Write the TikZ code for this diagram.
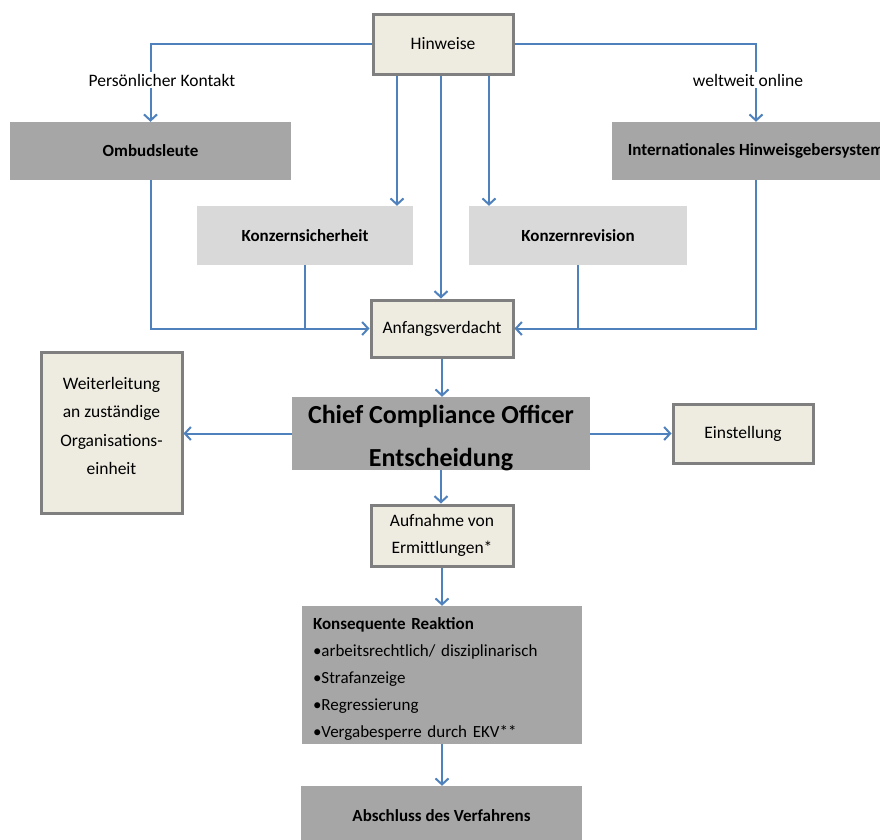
\documentclass[tikz,border=0pt]{standalone}
\usepackage{fontspec}
\setmainfont{Carlito}
\usetikzlibrary{arrows.meta}
\definecolor{beige}{HTML}{EEECE1}
\definecolor{frame}{HTML}{7F7F7F}
\definecolor{dgray}{HTML}{A6A6A6}
\definecolor{lgray}{HTML}{D9D9D9}
\definecolor{conncol}{HTML}{4F81BD}
\tikzset{
  base/.style={inner sep=0pt, align=center, font=\fontsize{17.5}{21}\selectfont},
  beigebox/.style={base, fill=beige, draw=frame, line width=3pt},
  darkbox/.style={base, fill=dgray, font=\fontsize{17}{21}\selectfont\bfseries},
  lightbox/.style={base, fill=lgray, font=\fontsize{17}{21}\selectfont\bfseries},
  txt/.style={inner sep=0pt, align=center},
  conn/.style={draw=conncol, line width=2pt, -{Straight Barb[length=6pt,width=13pt]}},
  plainline/.style={draw=conncol, line width=2pt},
  lbl/.style={base, fill=white, inner sep=2pt}
}
\begin{document}
\begin{tikzpicture}[x=1pt,y=-1pt]
\useasboundingbox (0,0) rectangle (880,839);
\fill[white] (0,0) rectangle (880,839);
% nodes
\node[beigebox, minimum width=140, minimum height=60] (hin) at (443,44) {Hinweise};
\node[darkbox, minimum width=281, minimum height=58] (omb) at (150.5,151) {Ombudsleute};
\node[darkbox, minimum width=288, minimum height=58] (int) at (756,151) {Internationales Hinweisgebersystem};
\node[lightbox, minimum width=216, minimum height=59] (ks) at (305,235.5) {Konzernsicherheit};
\node[lightbox, minimum width=218, minimum height=59] (kr) at (578,235.5) {Konzernrevision};
\node[beigebox, minimum width=142, minimum height=57] (anf) at (442,328.5) {Anfangsverdacht};
\node[beigebox, minimum width=141, minimum height=161] (wei) at (111.5,432.5) {};
\node[txt, font=\fontsize{17.5}{28.5}\selectfont] (weit) at (111.5,426)
  {Weiterleitung\\an zuständige\\Organisations-\\einheit};
\node[base, fill=dgray, minimum width=298, minimum height=73] (cco) at (441,433.5) {};
\node[txt, font=\fontsize{26}{43}\selectfont\bfseries] (ccot) at (441,438)
  {Chief Compliance Officer\\Entscheidung};
\node[beigebox, minimum width=140, minimum height=59] (ein) at (743,433.5) {Einstellung};
\node[beigebox, minimum width=142, minimum height=61, font=\fontsize{17.5}{27}\selectfont] (auf) at (442,535.5) {Aufnahme von\\Ermittlungen*};
\node[base, fill=dgray, minimum width=280, minimum height=138] (kon) at (442,675) {};
\node[txt, text width=258, align=left, font=\fontsize{17}{27.2}\selectfont] (kont) at (442,679)
  {\textbf{Konsequente Reaktion}\\•arbeitsrechtlich/ disziplinarisch\\•Strafanzeige\\•Regressierung\\•Vergabesperre durch EKV**};
\node[darkbox, minimum width=281, minimum height=59] (abs) at (441.5,815.5) {Abschluss des Verfahrens};
% helper coordinates
\coordinate (xa) at (397,0);
\coordinate (xb) at (441,0);
\coordinate (xc) at (489,0);
% connectors from Hinweise
\draw[conn] (hin.west) -| (omb.north);
\draw[conn] (hin.east) -| (int.north);
\draw[conn] (hin.south -| xa) -- (ks.north -| xa);
\draw[conn] (hin.south -| xb) -- (anf.north -| xb);
\draw[conn] (hin.south -| xc) -- (kr.north -| xc);
\node[lbl] (pk) at (162,80) {Persönlicher Kontakt};
\node[lbl] (wo) at (748,80) {weltweit online};
% to Anfangsverdacht
\draw[conn] (omb.south) |- (anf.west);
\draw[plainline] (ks.south) -- (ks.south |- anf.west);
\draw[conn] (int.south) |- (anf.east);
\draw[plainline] (kr.south) -- (kr.south |- anf.east);
% main flow
\draw[conn] (anf.south) -- (anf.south |- cco.north);
\draw[conn] (cco.west) -- (wei.east |- cco.west);
\draw[conn] (cco.east) -- (ein.west |- cco.east);
\draw[conn] (cco.south) -- (cco.south |- auf.north);
\draw[conn] (auf.south) -- (auf.south |- kon.north);
\draw[conn] (kon.south) -- (kon.south |- abs.north);
\end{tikzpicture}
\end{document}
